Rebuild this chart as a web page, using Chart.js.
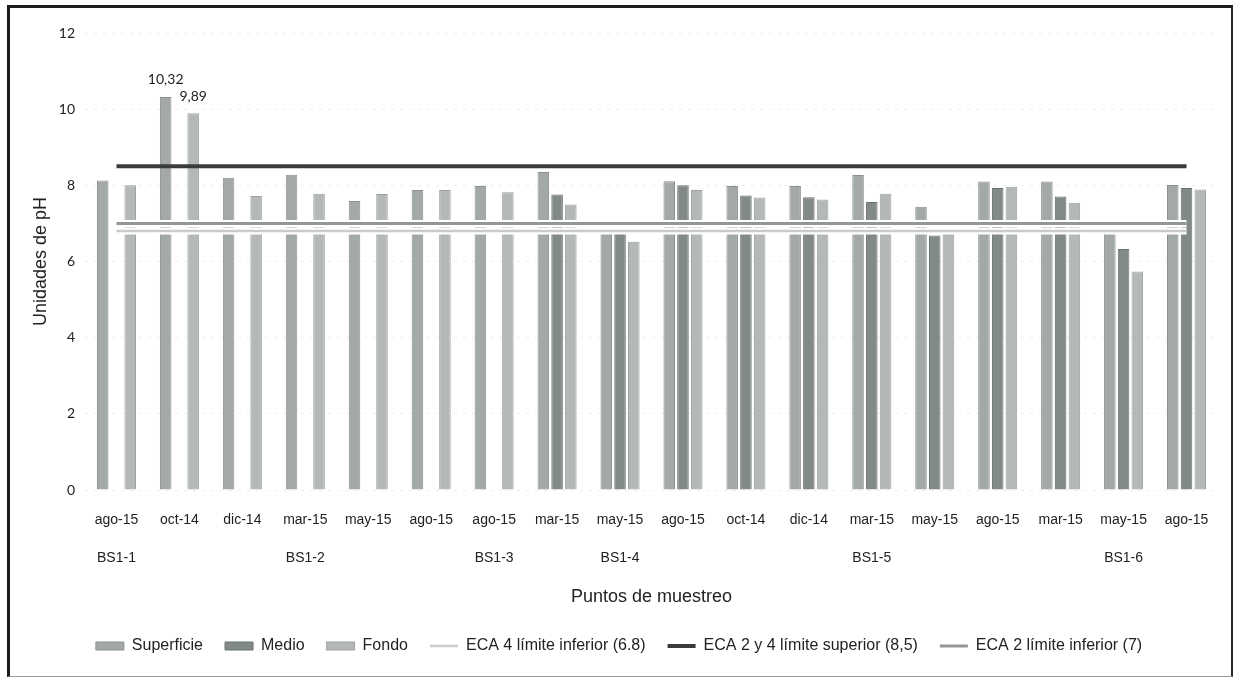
<!DOCTYPE html>
<html>
<head>
<meta charset="utf-8">
<script src="https://cdn.jsdelivr.net/npm/chart.js@4.4.1/dist/chart.umd.min.js"></script>
<style>
  html, body { margin: 0; padding: 0; background: #fff; }
  #wrap { position: relative; width: 1234px; height: 678px; }
  #marco {
    position: absolute; left: 7px; top: 5px; width: 1221px; height: 668px;
    border-left: 3px solid #1c1c1c; border-top: 3px solid #1c1c1c;
    border-right: 2px solid #2a2a2a; border-bottom: 1px solid #9a9a9a;
    pointer-events: none;
  }
</style>
</head>
<body>
<div id="wrap">
  <canvas id="grafico"></canvas>
  <div id="marco"></div>
</div>
<script>
// Meses de muestreo y puntos (segunda fila de etiquetas)
const meses = ["ago-15", "oct-14", "dic-14", "mar-15", "may-15", "ago-15", "ago-15", "mar-15", "may-15",
  "ago-15", "oct-14", "dic-14", "mar-15", "may-15", "ago-15", "mar-15", "may-15", "ago-15"];
const puntos = ["BS1-1", "", "", "BS1-2", "", "", "BS1-3", "", "BS1-4",
  "", "", "", "BS1-5", "", "", "", "BS1-6", ""];

// Valores de pH
const superficie = [8.13, 10.32, 8.2, 8.28, 7.59, 7.88, 7.98, 8.35, 6.8,
  8.11, 7.98, 7.98, 8.27, 7.44, 8.1, 8.1, 6.77, 8.01];
const medio = [null, null, null, null, null, null, null, 7.76, 6.88,
  8.0, 7.73, 7.69, 7.56, 6.68, 7.93, 7.71, 6.33, 7.93];
const fondo = [8.0, 9.89, 7.72, 7.78, 7.77, 7.88, 7.82, 7.5, 6.52,
  7.88, 7.68, 7.63, 7.78, 6.82, 7.96, 7.54, 5.74, 7.89];

// Límites ECA
const eca4Inferior = [6.8, 6.8, 6.8, 6.8, 6.8, 6.8, 6.8, 6.8, 6.8, 6.8, 6.8, 6.8, 6.8, 6.8, 6.8, 6.8, 6.8, 6.8];
const ecaSuperior = [8.5, 8.5, 8.5, 8.5, 8.5, 8.5, 8.5, 8.5, 8.5, 8.5, 8.5, 8.5, 8.5, 8.5, 8.5, 8.5, 8.5, 8.5];
const eca2Inferior = [7, 7, 7, 7, 7, 7, 7, 7, 7, 7, 7, 7, 7, 7, 7, 7, 7, 7];

const labels = meses.map((m, i) => [m, puntos[i]]);

const arial = "'Liberation Sans', Arial, sans-serif";

// Etiquetas de valor para las barras que superan el límite superior
const etiquetasValor = {
  id: "etiquetasValor",
  afterDatasetsDraw(chart) {
    const ctx = chart.ctx;
    ctx.save();
    ctx.font = "14px Lato, sans-serif";
    ctx.fillStyle = "#222";
    ctx.textAlign = "center";
    ctx.textBaseline = "bottom";
    chart.data.datasets.forEach((ds, di) => {
      if (ds.type !== "bar") return;
      chart.getDatasetMeta(di).data.forEach((bar, i) => {
        const v = ds.data[i];
        if (v != null && v > ecaSuperior[i]) {
          ctx.fillText(v.toFixed(2).replace(".", ","), bar.x, bar.y - 10);
        }
      });
    });
    ctx.restore();
  },
};

const barra = (label, data, color, borde) => ({
  type: "bar", label, data,
  backgroundColor: color, borderColor: borde, borderWidth: 1,
  categoryPercentage: 0.655, barPercentage: 0.84,
  pointStyle: "rect", order: 3,
});

const linea = (label, data, color, ancho) => ({
  type: "line", label, data,
  borderColor: color, backgroundColor: color, borderWidth: ancho,
  pointRadius: 0, pointStyle: "line", fill: false, order: 1,
});

const halo = (data) => ({
  type: "line", label: "", data, halo: true,
  borderColor: "#ffffff", borderWidth: 7, pointRadius: 0, fill: false, order: 2,
});

new Chart(document.getElementById("grafico"), {
  data: {
    labels: labels,
    datasets: [
      barra("Superficie", superficie, "#a3a9a6", "#8a918d"),
      barra("Medio", medio, "#818a86", "#6a726e"),
      barra("Fondo", fondo, "#b4b9b8", "#9ba1a0"),
      linea("ECA 4 límite inferior (6.8)", eca4Inferior, "#c9cccb", 2.5),
      linea("ECA 2 y 4 límite superior (8,5)", ecaSuperior, "#393c3b", 4),
      linea("ECA 2 límite inferior (7)", eca2Inferior, "#939795", 3),
      halo(eca4Inferior),
      halo(eca2Inferior),
    ],
  },
  options: {
    responsive: true,
    maintainAspectRatio: false,
    animation: false,
    devicePixelRatio: 1,
    layout: { padding: { left: 20, top: 33, right: 16, bottom: 14 } },
    plugins: {
      legend: {
        position: "bottom",
        labels: {
          filter: (item, data) => !data.datasets[item.datasetIndex].halo,
          sort: (a, b) => a.datasetIndex - b.datasetIndex,
          usePointStyle: true,
          pointStyleWidth: 28,
          boxHeight: 8,
          padding: 22,
          color: "#222",
          font: { family: arial, size: 16 },
        },
      },
      tooltip: { enabled: false },
    },
    scales: {
      x: {
        grid: { display: false },
        border: { display: false },
        ticks: {
          autoSkip: false, maxRotation: 0, color: "#222", padding: 4,
          font: { family: arial, size: 14, lineHeight: 2.65 },
        },
        title: {
          display: true, text: "Puntos de muestreo", color: "#222",
          font: { family: arial, size: 18 }, padding: { top: 0, bottom: 8 },
        },
        afterFit: (s) => { s.height = 126; },
      },
      y: {
        min: 0, max: 12,
        ticks: { stepSize: 2, color: "#222", padding: 10, font: { family: "Lato, sans-serif", size: 14 } },
        grid: { color: "#ececec", drawTicks: false },
        border: { display: false, dash: [3, 6] },
        title: {
          display: true, text: "Unidades de pH", color: "#222",
          font: { family: arial, size: 18 }, padding: { top: 10, bottom: 0 },
        },
        afterFit: (s) => { s.width = 65; },
      },
    },
  },
  plugins: [etiquetasValor],
});
</script>
</body>
</html>
